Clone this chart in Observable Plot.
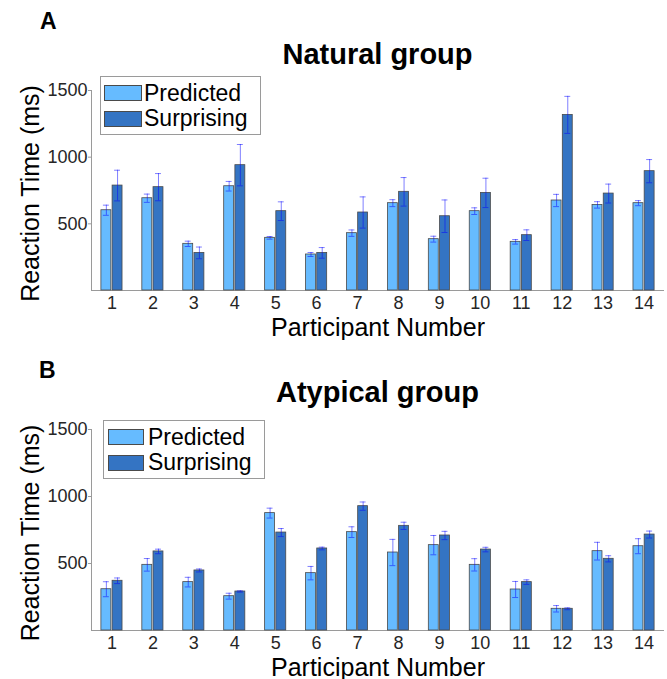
<!DOCTYPE html>
<html><head><meta charset="utf-8">
<script src="https://cdn.jsdelivr.net/npm/d3@7"></script>
<script src="https://cdn.jsdelivr.net/npm/@observablehq/plot@0.6"></script>
<style>
body{margin:0;background:#fff;font-family:"Liberation Sans",Arial,sans-serif;}
#page{position:relative;width:667px;height:679px;overflow:hidden;background:#fff;}
.abs{position:absolute;white-space:nowrap;line-height:1;}
.svgwrap{position:absolute;left:0;}
.title{font-weight:bold;font-size:29px;text-align:center;color:#000;}
.letter{font-weight:bold;font-size:23px;color:#000;}
.lbox{position:absolute;border:1px solid #9a9a9a;background:#fff;box-sizing:border-box;}
.sw{position:absolute;border:1px solid #4a4a4a;box-sizing:border-box;}
.ltxt{position:absolute;font-size:23px;line-height:1;white-space:nowrap;color:#000;}
</style></head><body><div id="page"></div>
<script>
// ---- data ----
const participants = [1,2,3,4,5,6,7,8,9,10,11,12,13,14];
const series = ["Predicted", "Surprising"];
const colors = ["#66bbff", "#3474c3"];
const yTicks = [500, 1000, 1500];

const naturalPredicted    = [602, 692, 350, 782, 395, 270, 430, 655, 385, 595, 365, 675, 642, 655];
const naturalPredictedErr = [38, 31, 20, 36, 10, 15, 24, 26, 22, 25, 17, 46, 24, 19];
const naturalSurprising    = [787, 775, 282, 940, 595, 282, 585, 740, 557, 732, 415, 1317, 727, 895];
const naturalSurprisingErr = [115, 102, 44, 155, 70, 40, 117, 107, 122, 110, 40, 139, 71, 87];

const atypicalPredicted    = [308, 490, 361, 256, 876, 428, 734, 582, 637, 490, 306, 162, 592, 629];
const atypicalPredictedErr = [56, 47, 36, 22, 37, 50, 40, 98, 72, 46, 60, 24, 66, 56];
const atypicalSurprising    = [371, 590, 448, 291, 731, 612, 928, 781, 709, 604, 361, 162, 535, 716];
const atypicalSurprisingErr = [21, 17, 11, 5, 30, 10, 31, 27, 31, 17, 17, 7, 23, 26];

const page = document.getElementById("page");

function makePanel(opt) {
  const rows = participants.map((p, i) => ({
    p, pred: opt.pred[i], pe: opt.predErr[i], surp: opt.surp[i], se: opt.surpErr[i]
  }));
  const errStyle = {stroke: "#0000ff", strokeOpacity: 0.5, strokeWidth: 1};
  const barStyle = {stroke: "#4a4a4a", strokeWidth: 0.8};
  const chart = Plot.plot({
    width: 667, height: opt.height,
    marginTop: opt.marginTop, marginBottom: opt.marginBottom,
    marginLeft: 91, marginRight: 3,
    style: {fontFamily: "Liberation Sans, Arial, sans-serif", background: "transparent", color: "#262626"},
    x: {type: "band", domain: participants, padding: 0, round: false},
    y: {domain: [0, 1500]},
    marks: [
      Plot.frame({anchor: "left", stroke: "#9a9a9a"}),
      Plot.ruleY([0], {stroke: "#9a9a9a"}),
      Plot.axisY({ticks: yTicks, tickSize: 3, tickPadding: 1, tickFormat: d => String(d), fontSize: 18, label: null, stroke: "#9a9a9a", fill: "#262626"}),
      Plot.axisX({tickSize: 0, tickPadding: 6, fontSize: 18, label: null, fill: "#262626"}),
      Plot.rectY(rows, {x: "p", y: "pred", fill: colors[0], ...barStyle, insetLeft: 9.9, insetRight: 21.1}),
      Plot.rectY(rows, {x: "p", y: "surp", fill: colors[1], ...barStyle, insetLeft: 21.1, insetRight: 9.9}),
      Plot.ruleX(rows, {x: "p", y1: d => d.pred - d.pe, y2: d => d.pred + d.pe, dx: -5.6, ...errStyle}),
      Plot.ruleX(rows, {x: "p", y1: d => d.surp - d.se, y2: d => d.surp + d.se, dx: 5.6, ...errStyle}),
      Plot.tickY(rows, {x: "p", y: d => d.pred + d.pe, insetLeft: 11.9, insetRight: 23.1, ...errStyle}),
      Plot.tickY(rows, {x: "p", y: d => d.pred - d.pe, insetLeft: 11.9, insetRight: 23.1, ...errStyle}),
      Plot.tickY(rows, {x: "p", y: d => d.surp + d.se, insetLeft: 23.1, insetRight: 11.9, ...errStyle}),
      Plot.tickY(rows, {x: "p", y: d => d.surp - d.se, insetLeft: 23.1, insetRight: 11.9, ...errStyle}),
      Plot.text(["Reaction Time (ms)"], {text: d => d, frameAnchor: "left", textAnchor: "middle", lineAnchor: "middle", rotate: -90, dx: -61, dy: 3, fontSize: 25, fill: "#000"}),
      Plot.text(["Participant Number"], {text: d => d, frameAnchor: "bottom", textAnchor: "middle", lineAnchor: "middle", dy: 37, fontSize: 25, fill: "#000"})
    ]
  });
  const wrap = document.createElement("div");
  wrap.className = "svgwrap";
  wrap.style.top = opt.top + "px";
  wrap.appendChild(chart);
  page.appendChild(wrap);

  const letter = document.createElement("div");
  letter.className = "abs letter";
  letter.textContent = opt.letter;
  letter.style.left = opt.letterX + "px";
  letter.style.top = opt.letterY + "px";
  page.appendChild(letter);

  const title = document.createElement("div");
  title.className = "abs title";
  title.textContent = opt.title;
  title.style.left = "91px"; title.style.width = "573px";
  title.style.top = opt.titleY + "px";
  page.appendChild(title);

  const L = opt.legend;
  const box = document.createElement("div");
  box.className = "lbox";
  Object.assign(box.style, {left: L.x + "px", top: L.y + "px", width: L.w + "px", height: L.h + "px"});
  page.appendChild(box);
  series.forEach((s, i) => {
    const sw = document.createElement("div");
    sw.className = "sw";
    Object.assign(sw.style, {left: L.swX + "px", top: L.swY[i] + "px", width: L.swW + "px", height: L.swH + "px", background: colors[i]});
    page.appendChild(sw);
    const t = document.createElement("div");
    t.className = "ltxt";
    t.textContent = s;
    Object.assign(t.style, {left: L.txtX + "px", top: (L.base[i] - 0.8465 * 23) + "px"});
    page.appendChild(t);
  });
}

makePanel({
  top: 0, height: 340, marginTop: 90, marginBottom: 50,
  pred: naturalPredicted, predErr: naturalPredictedErr, surp: naturalSurprising, surpErr: naturalSurprisingErr,
  letter: "A", letterX: 40, letterY: 9.5, title: "Natural group", titleY: 39.5,
  legend: {x: 100, y: 76, w: 161, h: 59, swX: 104, swY: [85, 111], swW: 38, swH: 16, txtX: 144, base: [101.5, 126.5]}
});
makePanel({
  top: 340, height: 339, marginTop: 89, marginBottom: 49,
  pred: atypicalPredicted, predErr: atypicalPredictedErr, surp: atypicalSurprising, surpErr: atypicalSurprisingErr,
  letter: "B", letterX: 39, letterY: 358.5, title: "Atypical group", titleY: 377.5,
  legend: {x: 103, y: 420, w: 162, h: 59, swX: 108, swY: [429, 455], swW: 36, swH: 16, txtX: 148, base: [445, 470]}
});
</script></body></html>
